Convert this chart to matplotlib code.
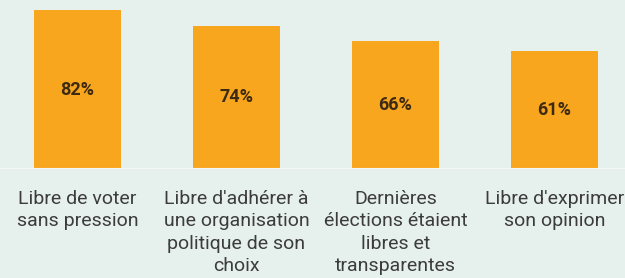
import matplotlib
matplotlib.use("Agg")
import matplotlib.pyplot as plt

categories = [
    "Libre de voter\nsans pression",
    "Libre d'adhérer à\nune organisation\npolitique de son\nchoix",
    "Dernières\nélections étaient\nlibres et\ntransparentes",
    "Libre d'exprimer\nson opinion",
]
values = [82, 74, 66, 61]
value_labels = ["82%", "74%", "66%", "61%"]

bg = "#e6f0ec"
bar_color = "#f8a61e"

plt.rcParams["font.family"] = ["Roboto", "DejaVu Sans"]

fig = plt.figure(figsize=(6.25, 2.78), dpi=100)
fig.patch.set_facecolor(bg)
ax = fig.add_axes([0, 109 / 278, 1, 169 / 278])
ax.set_facecolor(bg)

x = range(len(values))
bars = ax.bar(x, values, width=0.55, color=bar_color)
for xi, v, lab in zip(x, values, value_labels):
    ax.text(xi, v / 2, lab, ha="center", va="center", fontsize=13,
            fontweight="bold", color="#3d2a12")

ax.axhline(0, color="#f4f8f6", lw=1.5)
ax.set_xlim(-0.487, 3.443)
ax.set_ylim(0, 87.2)
ax.set_xticks(list(x))
ax.set_xticklabels(categories, fontsize=14, color="#3c3c3c", linespacing=1.31)
ax.tick_params(axis="x", length=0, pad=15)
ax.set_yticks([])
for s in ax.spines.values():
    s.set_visible(False)

fig.savefig("out.png", dpi=100, facecolor=bg)
